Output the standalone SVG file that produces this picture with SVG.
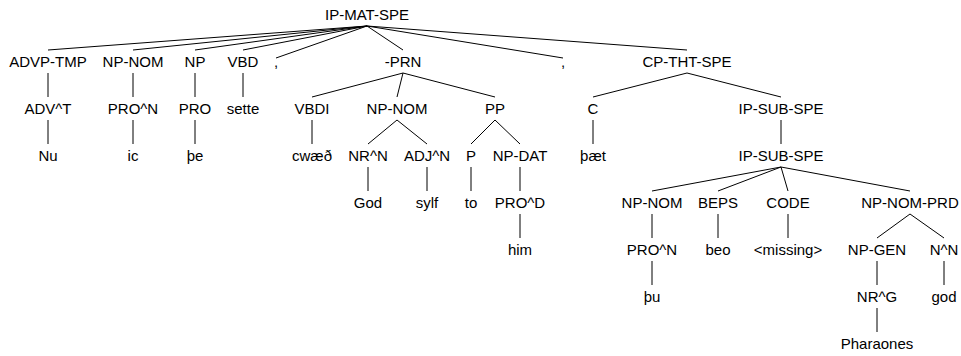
<svg xmlns="http://www.w3.org/2000/svg" width="961" height="356" viewBox="0 0 961 356">
<style>
text{font-family:"Liberation Sans",Arial,Helvetica,sans-serif;font-size:15px;fill:#000;text-anchor:middle}
#edges line{stroke:#000;stroke-width:1}
</style>
<rect width="961" height="356" fill="#fff"/>
<g id="edges">
<line x1="367" y1="26" x2="48" y2="50"/>
<line x1="367" y1="26" x2="133" y2="50"/>
<line x1="367" y1="26" x2="195" y2="50"/>
<line x1="367" y1="26" x2="243" y2="50"/>
<line x1="367" y1="26" x2="276" y2="58"/>
<line x1="367" y1="26" x2="403" y2="50"/>
<line x1="367" y1="26" x2="563" y2="58"/>
<line x1="367" y1="26" x2="687" y2="50"/>
<line x1="48" y1="73" x2="48" y2="97"/>
<line x1="133" y1="73" x2="133" y2="97"/>
<line x1="195" y1="73" x2="195" y2="97"/>
<line x1="243" y1="73" x2="243" y2="97"/>
<line x1="403" y1="73" x2="312" y2="97"/>
<line x1="403" y1="73" x2="397" y2="97"/>
<line x1="403" y1="73" x2="495" y2="97"/>
<line x1="687" y1="73" x2="593" y2="97"/>
<line x1="687" y1="73" x2="781" y2="97"/>
<line x1="48" y1="120" x2="48" y2="144"/>
<line x1="133" y1="120" x2="133" y2="144"/>
<line x1="195" y1="120" x2="195" y2="144"/>
<line x1="312" y1="120" x2="312" y2="144"/>
<line x1="397" y1="120" x2="368" y2="144"/>
<line x1="397" y1="120" x2="427" y2="144"/>
<line x1="495" y1="120" x2="471" y2="144"/>
<line x1="495" y1="120" x2="520" y2="144"/>
<line x1="593" y1="120" x2="593" y2="144"/>
<line x1="781" y1="120" x2="781" y2="144"/>
<line x1="368" y1="167" x2="368" y2="191"/>
<line x1="427" y1="167" x2="427" y2="191"/>
<line x1="471" y1="167" x2="471" y2="191"/>
<line x1="520" y1="167" x2="520" y2="191"/>
<line x1="781" y1="167" x2="652" y2="191"/>
<line x1="781" y1="167" x2="718" y2="191"/>
<line x1="781" y1="167" x2="788" y2="191"/>
<line x1="781" y1="167" x2="910" y2="191"/>
<line x1="520" y1="214" x2="520" y2="238"/>
<line x1="652" y1="214" x2="652" y2="238"/>
<line x1="718" y1="214" x2="718" y2="238"/>
<line x1="788" y1="214" x2="788" y2="238"/>
<line x1="910" y1="214" x2="877" y2="238"/>
<line x1="910" y1="214" x2="944" y2="238"/>
<line x1="652" y1="261" x2="652" y2="285"/>
<line x1="877" y1="261" x2="877" y2="285"/>
<line x1="944" y1="261" x2="944" y2="285"/>
<line x1="877" y1="308" x2="877" y2="332"/>
</g>
<g id="n-ip-mat-spe"><text x="367" y="20">IP-MAT-SPE</text></g>
<g id="n-advp-tmp"><text x="48" y="67">ADVP-TMP</text></g>
<g id="n-adv-t"><text x="48" y="114">ADV^T</text></g>
<g id="n-nu"><text x="48" y="161">Nu</text></g>
<g id="n-np-nom1"><text x="133" y="67">NP-NOM</text></g>
<g id="n-pro-n1"><text x="133" y="114">PRO^N</text></g>
<g id="n-ic"><text x="133" y="161">ic</text></g>
<g id="n-np"><text x="195" y="67">NP</text></g>
<g id="n-pro"><text x="195" y="114">PRO</text></g>
<g id="n-the"><text x="195" y="161">þe</text></g>
<g id="n-vbd"><text x="243" y="67">VBD</text></g>
<g id="n-sette"><text x="243" y="114">sette</text></g>
<g id="n-comma1"><text x="276" y="67">,</text></g>
<g id="n-prn"><text x="403" y="67">-PRN</text></g>
<g id="n-vbdi"><text x="312" y="114">VBDI</text></g>
<g id="n-cwaeth"><text x="312" y="161">cwæð</text></g>
<g id="n-np-nom2"><text x="397" y="114">NP-NOM</text></g>
<g id="n-nr-n"><text x="368" y="161">NR^N</text></g>
<g id="n-god1"><text x="368" y="208">God</text></g>
<g id="n-adj-n"><text x="427" y="161">ADJ^N</text></g>
<g id="n-sylf"><text x="427" y="208">sylf</text></g>
<g id="n-pp"><text x="495" y="114">PP</text></g>
<g id="n-p"><text x="471" y="161">P</text></g>
<g id="n-to"><text x="471" y="208">to</text></g>
<g id="n-np-dat"><text x="520" y="161">NP-DAT</text></g>
<g id="n-pro-d"><text x="520" y="208">PRO^D</text></g>
<g id="n-him"><text x="520" y="255">him</text></g>
<g id="n-comma2"><text x="563" y="67">,</text></g>
<g id="n-cp-tht-spe"><text x="687" y="67">CP-THT-SPE</text></g>
<g id="n-c"><text x="593" y="114">C</text></g>
<g id="n-thaet"><text x="593" y="161">þæt</text></g>
<g id="n-ip-sub-spe1"><text x="781" y="114">IP-SUB-SPE</text></g>
<g id="n-ip-sub-spe2"><text x="781" y="161">IP-SUB-SPE</text></g>
<g id="n-np-nom3"><text x="652" y="208">NP-NOM</text></g>
<g id="n-pro-n2"><text x="652" y="255">PRO^N</text></g>
<g id="n-thu"><text x="652" y="302">þu</text></g>
<g id="n-beps"><text x="718" y="208">BEPS</text></g>
<g id="n-beo"><text x="718" y="255">beo</text></g>
<g id="n-code"><text x="788" y="208">CODE</text></g>
<g id="n-missing"><text x="788" y="255">&lt;missing&gt;</text></g>
<g id="n-np-nom-prd"><text x="910" y="208">NP-NOM-PRD</text></g>
<g id="n-np-gen"><text x="877" y="255">NP-GEN</text></g>
<g id="n-nr-g"><text x="877" y="302">NR^G</text></g>
<g id="n-pharaones"><text x="877" y="349">Pharaones</text></g>
<g id="n-n-n"><text x="944" y="255">N^N</text></g>
<g id="n-god2"><text x="944" y="302">god</text></g>
</svg>
